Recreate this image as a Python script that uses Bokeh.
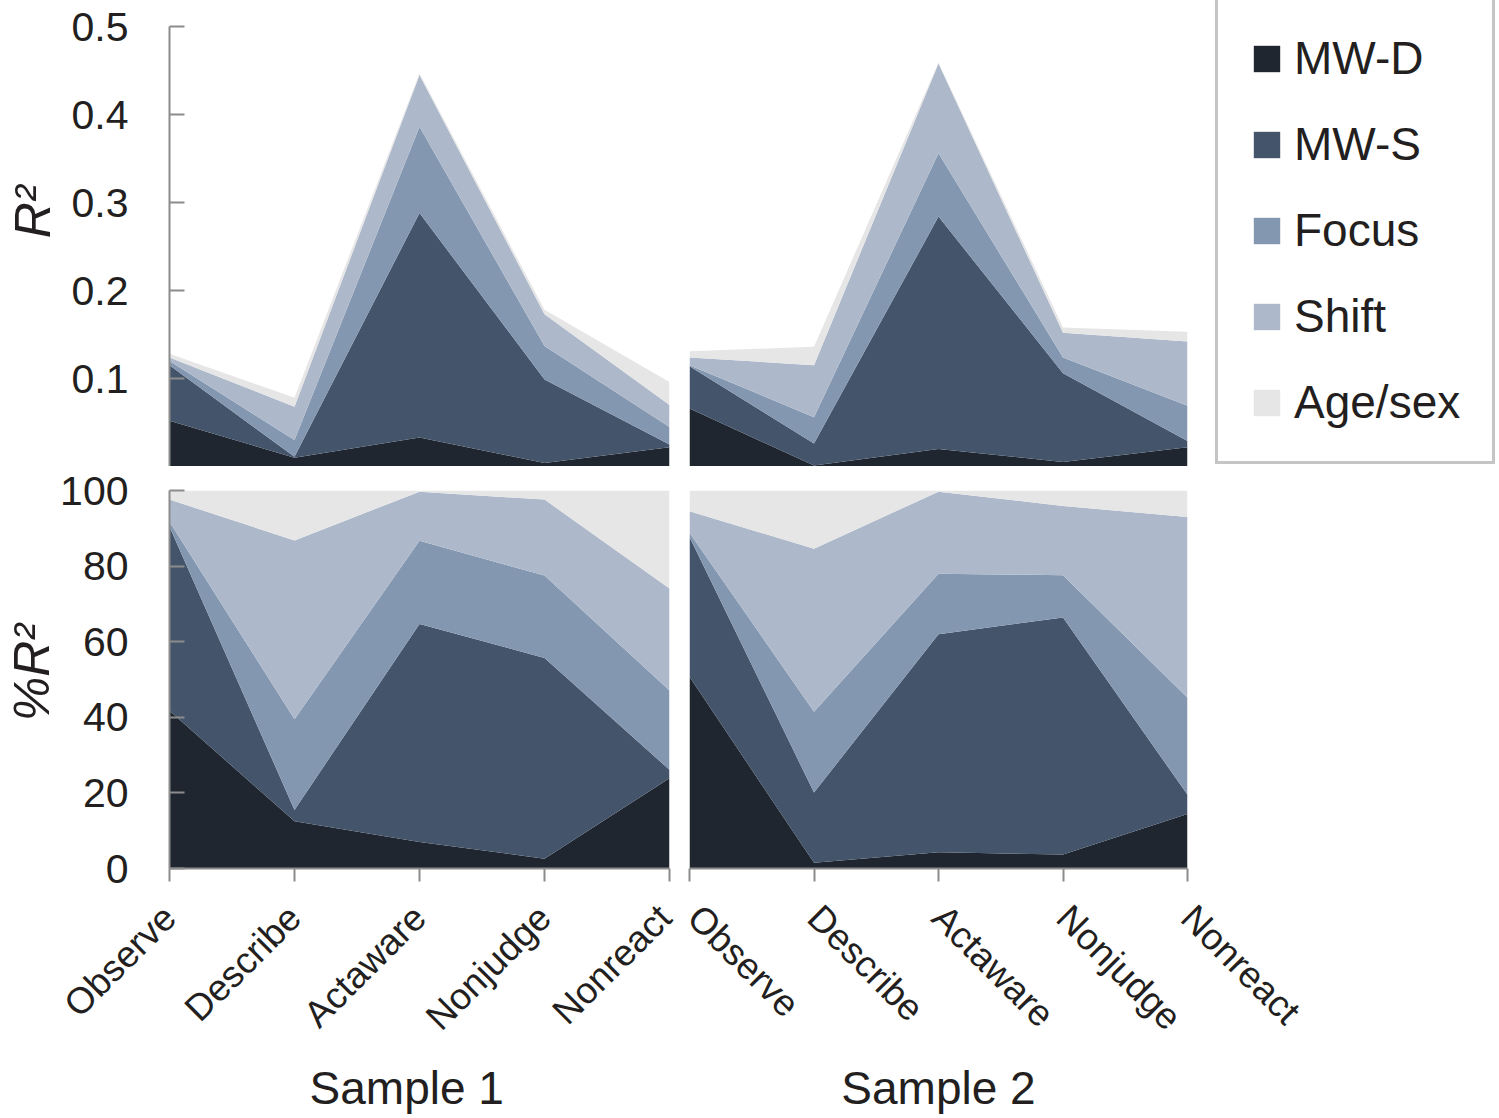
from math import pi
from bokeh.plotting import figure
from bokeh.models import (Legend, LegendItem, FixedTicker,
                          ColumnDataSource, Range1d)
from bokeh.layouts import column, row
from bokeh.embed import file_html
from bokeh.resources import INLINE

# ---------------- data ----------------
categories = ["Observe", "Describe", "Actaware", "Nonjudge", "Nonreact"]
series = ["MW-D", "MW-S", "Focus", "Shift", "Age/sex"]
colors = ["#20262f", "#43546b", "#8497b0", "#adb9cb", "#e6e6e6"]

# Sample 1, R^2 contributions
s1_r2_mwd = [0.052, 0.010, 0.033, 0.004, 0.022]
s1_r2_mws = [0.063, 0.001, 0.255, 0.095, 0.003]
s1_r2_focus = [0.005, 0.019, 0.098, 0.038, 0.020]
s1_r2_shift = [0.004, 0.038, 0.059, 0.036, 0.025]
s1_r2_age = [0.004, 0.010, 0.002, 0.005, 0.026]

# Sample 2, R^2 contributions
s2_r2_mwd = [0.066, 0.001, 0.020, 0.005, 0.022]
s2_r2_mws = [0.048, 0.025, 0.264, 0.101, 0.007]
s2_r2_focus = [0.001, 0.030, 0.072, 0.018, 0.040]
s2_r2_shift = [0.009, 0.059, 0.102, 0.028, 0.073]
s2_r2_age = [0.007, 0.021, 0.001, 0.006, 0.011]

# Sample 1, % of R^2
s1_pct_mwd = [41.7, 12.5, 7.0, 2.6, 23.9]
s1_pct_mws = [48.7, 3.0, 57.7, 53.1, 2.2]
s1_pct_focus = [1.3, 24.0, 22.0, 21.8, 21.0]
s1_pct_shift = [5.9, 47.3, 13.0, 20.1, 27.0]
s1_pct_age = [2.4, 13.2, 0.3, 2.4, 25.9]

# Sample 2, % of R^2
s2_pct_mwd = [50.7, 1.5, 4.3, 3.7, 14.4]
s2_pct_mws = [37.0, 18.6, 57.7, 62.7, 5.1]
s2_pct_focus = [1.1, 21.4, 16.0, 11.2, 25.7]
s2_pct_shift = [5.7, 43.1, 21.7, 18.3, 47.8]
s2_pct_age = [5.5, 15.4, 0.3, 4.1, 7.0]

r2_ticks = [0.1, 0.2, 0.3, 0.4, 0.5]
pct_ticks = [0, 20, 40, 60, 80, 100]

FONT = "Liberation Sans"
TXT = "#231f20"
AX = "#8c8c8c"
NB = "\u00a0"
xpos = list(range(len(categories)))


def make_source(cols):
    d = {"x": xpos}
    for name, vals in zip(series, cols):
        d[name] = vals
    return ColumnDataSource(d)


def make_fig(fw, fh, yr, borders, show_x, show_y):
    p = figure(frame_width=fw, frame_height=fh,
               x_range=Range1d(0, len(categories) - 1), y_range=Range1d(*yr),
               output_backend="svg", toolbar_location=None,
               x_axis_location="below" if show_x else None,
               y_axis_location="left" if show_y else None)
    p.min_border_left, p.min_border_right, p.min_border_top, p.min_border_bottom = borders
    p.grid.visible = False
    p.outline_line_color = None
    p.background_fill_color = "white"
    p.border_fill_color = "white"
    return p


def style_axis(ax):
    ax.axis_line_color = AX
    ax.axis_line_width = 2
    ax.major_tick_line_color = AX
    ax.major_tick_line_width = 2
    ax.minor_tick_line_color = None
    ax.major_label_text_font = FONT
    ax.major_label_text_color = TXT
    ax.axis_label_text_font = FONT
    ax.axis_label_text_color = TXT


def style_yaxis(ax, ticks, label, standoff):
    style_axis(ax)
    ax.ticker = FixedTicker(ticks=ticks)
    ax.major_tick_in = 15
    ax.major_tick_out = 0
    ax.major_label_standoff = 41
    ax.major_label_text_font_size = "41px"
    ax.axis_label = label
    ax.axis_label_text_font_size = "50px"
    ax.axis_label_text_font_style = "italic"
    ax.axis_label_standoff = standoff


def add_stack(p, src):
    return p.varea_stack(stackers=series, x="x", source=src, color=colors)


# ---------------- top row ----------------
tl = make_fig(500, 440, (0, 0.5), (169, 10, 26, 0), False, True)
add_stack(tl, make_source([s1_r2_mwd, s1_r2_mws, s1_r2_focus, s1_r2_shift, s1_r2_age]))
style_yaxis(tl.yaxis[0], r2_ticks, NB * 5 + "R²", 8)

tr = make_fig(498, 440, (0, 0.5), (10, 312, 26, 0), False, False)
r_tr = add_stack(tr, make_source([s2_r2_mwd, s2_r2_mws, s2_r2_focus, s2_r2_shift, s2_r2_age]))

legend = Legend(items=[LegendItem(label=n, renderers=[r]) for n, r in zip(series, r_tr)],
                location=(28, 2), orientation="vertical",
                label_text_font=FONT, label_text_font_size="46px", label_text_color=TXT,
                glyph_width=33, glyph_height=33, label_height=54, label_width=160,
                spacing=32, padding=32, label_standoff=11, margin=0,
                border_line_color=AX, border_line_width=3,
                background_fill_color="white", background_fill_alpha=1.0)
tr.add_layout(legend, "right")

# ---------------- bottom row ----------------
bl = make_fig(500, 378, (0, 100), (169, 10, 24, 246), True, True)
add_stack(bl, make_source([s1_pct_mwd, s1_pct_mws, s1_pct_focus, s1_pct_shift, s1_pct_age]))
br = make_fig(498, 378, (0, 100), (10, 130, 24, 246), True, False)
add_stack(br, make_source([s2_pct_mwd, s2_pct_mws, s2_pct_focus, s2_pct_shift, s2_pct_age]))

style_yaxis(bl.yaxis[0], pct_ticks, NB + "%R²", -3)

for p, ang, lab in ((bl, pi / 4, "Sample 1" + NB * 2), (br, -pi / 4, "Sample 2")):
    xa = p.xaxis[0]
    style_axis(xa)
    xa.ticker = FixedTicker(ticks=xpos)
    xa.major_label_overrides = {i: c for i, c in zip(xpos, categories)}
    xa.major_label_orientation = ang
    xa.major_tick_in = 0
    xa.major_tick_out = 13
    xa.major_label_standoff = 30
    xa.major_label_text_font_size = "37px"
    xa.axis_label = lab
    xa.axis_label_text_font_size = "46px"
    xa.axis_label_text_font_style = "normal"
    xa.axis_label_standoff = 6

layout = column(row(tl, tr), row(bl, br))

with open("out.html", "w") as f:
    f.write(file_html(layout, INLINE))
